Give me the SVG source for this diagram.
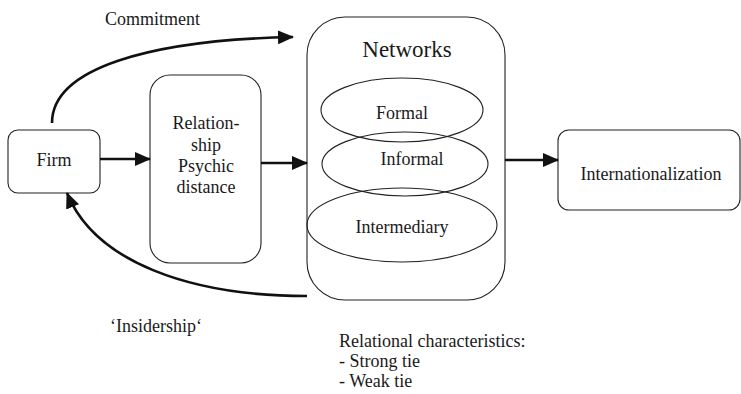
<svg xmlns="http://www.w3.org/2000/svg" width="741" height="394" viewBox="0 0 741 394">
  <style>
    .box { fill: #fff; stroke: #222; stroke-width: 1.1; }
    .oval { fill: none; stroke: #222; stroke-width: 1.1; }
    .lbl { font-family: 'Liberation Serif', 'Times New Roman', serif; font-size: 18px; fill: #1a1a1a; }
    .mid { text-anchor: middle; }
    .edge { fill: none; stroke: #111; stroke-width: 2.6; }
  </style>
  <defs>
    <marker id="arrow" viewBox="0 0 16 14" refX="15" refY="7" markerWidth="16" markerHeight="14" markerUnits="userSpaceOnUse" orient="auto">
      <path d="M0,0 L16,7 L0,14 Z" fill="#111"/>
    </marker>
  </defs>

  <g id="firm">
    <rect class="box" x="8" y="130" width="92" height="63" rx="10"/>
    <text class="lbl mid" x="54" y="166">Firm</text>
  </g>

  <g id="relationship">
    <rect class="box" x="150" y="75" width="111" height="188" rx="20"/>
    <text class="lbl mid" x="206" y="129">Relation-</text>
    <text class="lbl mid" x="206" y="151">ship</text>
    <text class="lbl mid" x="206" y="172">Psychic</text>
    <text class="lbl mid" x="206" y="193">distance</text>
  </g>

  <g id="networks">
    <rect class="box" x="307" y="17" width="198" height="283" rx="38"/>
    <text class="lbl mid" x="407" y="57" style="font-size:23px">Networks</text>
    <g id="formal">
      <ellipse class="oval" cx="402" cy="110" rx="81" ry="32"/>
      <text class="lbl mid" x="402" y="119">Formal</text>
    </g>
    <g id="informal">
      <ellipse class="oval" cx="405" cy="164" rx="83" ry="32"/>
      <text class="lbl mid" x="412" y="165">Informal</text>
    </g>
    <g id="intermediary">
      <ellipse class="oval" cx="402" cy="225" rx="95" ry="37"/>
      <text class="lbl mid" x="402" y="233">Intermediary</text>
    </g>
  </g>

  <g id="internationalization">
    <rect class="box" x="558" y="130" width="182" height="80" rx="11"/>
    <text class="lbl mid" x="651" y="180">Internationalization</text>
  </g>

  <g id="connectors">
    <path class="edge" d="M100,159 L150,159" marker-end="url(#arrow)"/>
    <path class="edge" d="M261,163 L307,163" marker-end="url(#arrow)"/>
    <path class="edge" d="M505,160 L558,160" marker-end="url(#arrow)"/>
    <path class="edge" d="M52,123 C52,68 150,40 293,37" marker-end="url(#arrow)"/>
    <path class="edge" d="M307,296 C190,296 95,262 67,193" marker-end="url(#arrow)"/>
  </g>

  <g id="labels">
    <text class="lbl" x="105" y="25">Commitment</text>
    <text class="lbl" x="110" y="332">&#8216;Insidership&#8216;</text>
    <text class="lbl" x="339" y="347">Relational characteristics:</text>
    <text class="lbl" x="339" y="367">- Strong tie</text>
    <text class="lbl" x="339" y="387">- Weak tie</text>
  </g>
</svg>
